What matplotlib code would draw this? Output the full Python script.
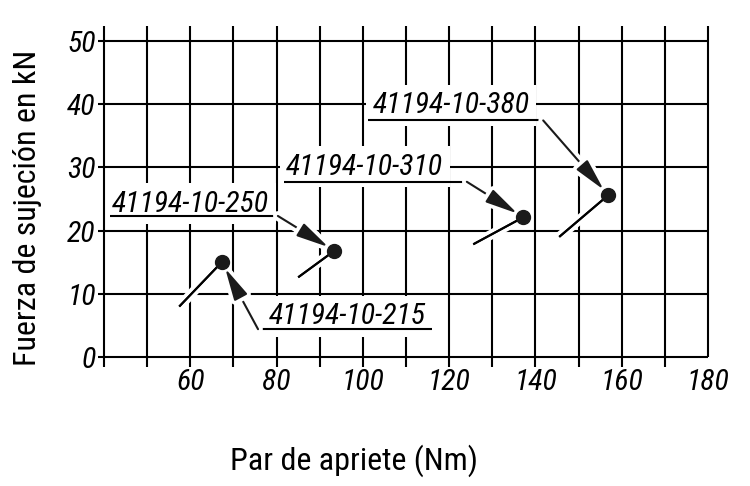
import matplotlib
matplotlib.use('Agg')
import matplotlib.pyplot as plt
import matplotlib.patheffects as pe
from matplotlib.patches import FancyArrowPatch

plt.rcParams['font.family'] = ['Roboto Condensed', 'DejaVu Sans']

# values
torque = [67.3, 93.4, 137.2, 156.9]
force = [15.0, 16.8, 22.1, 25.6]
names = ['41194-10-215', '41194-10-250', '41194-10-310', '41194-10-380']

x_ticks = [60, 80, 100, 120, 140, 160, 180]
y_ticks = [0, 10, 20, 30, 40, 50]
x_grid = list(range(40, 190, 10))
y_grid = list(range(0, 60, 10))

# label placement (text left/baseline, underline start/end/height, tail end)
text_pos = [(78.3, 5.2), (41.9, 23.0), (82.2, 28.8), (102.2, 38.5)]
underline = [(116.0, 75.7, 4.4), (41.4, 80.3, 22.3), (81.7, 124.1, 27.7), (101.2, 141.8, 37.4)]
tails = [(57.6, 8.1), (85.2, 12.7), (125.8, 17.9), (145.7, 19.1)]

fig = plt.figure(figsize=(7.5, 4.86), dpi=100)
ax = fig.add_axes([0.1387, 0.2654, 0.8053, 0.6508])
ax.set_xlim(40, 180)
ax.set_ylim(0, 50)
for s in ax.spines.values():
    s.set_visible(False)

lw = 1.5
for x in x_grid:
    lo = 0 if x == 180 else -1.5
    ax.vlines(x, lo, 52.3, color='black', lw=lw, clip_on=False, zorder=1)
for y in y_grid:
    ax.hlines(y, 38.6, 180, color='black', lw=lw, clip_on=False, zorder=1)

ax.set_xticks(x_ticks)
ax.set_yticks(y_ticks)
ax.set_xticklabels([str(v) for v in x_ticks], fontstyle='italic', fontsize=21.5)
ax.set_yticklabels([str(v) for v in y_ticks], fontstyle='italic', fontsize=21.5)
ax.tick_params(axis='x', length=0, pad=8)
ax.tick_params(axis='y', length=0, pad=6)

halo = [pe.withStroke(linewidth=7, foreground='white')]

for i in range(len(names)):
    tx, ty = text_pos[i]
    ax.text(tx, ty, names[i], fontsize=21.5, fontstyle='italic', va='baseline', ha='left',
            bbox=dict(boxstyle='square,pad=0.22', fc='white', ec='none'), zorder=3)
    u0, u1, uy = underline[i]
    ax.plot([u0, u1], [uy, uy], color='black', lw=lw, zorder=4, solid_capstyle='butt')
    arr = FancyArrowPatch((u1, uy), (torque[i], force[i]),
                          arrowstyle='-|>,head_length=20,head_width=4.5',
                          mutation_scale=1, color='#1a1a1a', lw=lw,
                          shrinkA=0, shrinkB=5, zorder=4)
    arr.set_path_effects(halo)
    ax.add_patch(arr)
    t = ax.plot([torque[i], tails[i][0]], [force[i], tails[i][1]],
                color='black', lw=lw, zorder=4)[0]
    t.set_path_effects(halo + [pe.Normal()])

ax.plot(torque, force, 'o', ms=10, color='#1a1a1a', zorder=5, linestyle='none')

fig.text(28 / 750, 1 - 208 / 486, 'Fuerza de sujeción en kN', rotation=90,
         ha='center', va='center', fontsize=23)
fig.text(354 / 750, 1 - 461 / 486, 'Par de apriete (Nm)', ha='center', va='center', fontsize=23)

fig.savefig('out.png', dpi=100)
